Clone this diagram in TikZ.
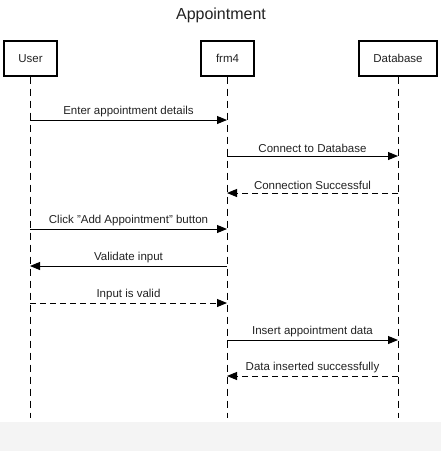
\documentclass[tikz,border=0pt]{standalone}
\usepackage{fontspec}
\setmainfont{Liberation Sans}
\usetikzlibrary{positioning,arrows.meta}
\definecolor{seqInk}{HTML}{222222}
\definecolor{seqBand}{HTML}{F4F4F4}

\begin{document}
\begin{tikzpicture}[x=1pt,y=-1pt,font=\fontsize{11.5}{13}\selectfont,text=seqInk,
  actor/.style={draw=black, line width=1.4pt, minimum height=35pt, inner sep=0pt},
  lifeline/.style={draw=black, line width=0.9pt, dash pattern=on 7pt off 5pt},
  call/.style={draw=black, line width=0.9pt, -{Triangle[length=10pt,width=8pt]}},
  reply/.style={call, dash pattern=on 6pt off 4pt},
  msg/.style={midway, above=-0.7pt}]
\useasboundingbox (0,0) rectangle (441,451);
% grey strip at the bottom
\fill[seqBand] (0,422) rectangle (441,451);
\node[font=\fontsize{16}{19}\selectfont] (title) at (221,15) {Appointment};
% participants
\node[actor, minimum width=53pt] (user) at (30.5,58.5) {User};
\node[actor, minimum width=53pt] (frm) at (227.5,58.5) {frm4};
\node[actor, minimum width=78pt] (db) at (398,58.5) {Database};
% lifelines
\coordinate (user-end) at (30,418);
\coordinate (frm-end) at (227,418);
\coordinate (db-end) at (398,418);
\draw[lifeline] (user.south -| user-end) -- (user-end);
\draw[lifeline] (frm.south -| frm-end) -- (frm-end);
\draw[lifeline] (db.south -| db-end) -- (db-end);
% message rows
\foreach \i/\y in {1/120,2/156,3/193,4/229,5/266,6/303,7/340,8/376} {
  \coordinate (user-\i) at (30,\y);
  \coordinate (frm-\i) at (227,\y);
  \coordinate (db-\i) at (398,\y);
}
\draw[call] (user-1) -- node[msg] {Enter appointment details} (frm-1);
\draw[call] (frm-2) -- node[msg] {Connect to Database} (db-2);
\draw[reply] (db-3) -- node[msg] {Connection Successful} (frm-3);
\draw[call] (user-4) -- node[msg] {Click \symbol{34}Add Appointment\symbol{34} button} (frm-4);
\draw[call] (frm-5) -- node[msg] {Validate input} (user-5);
\draw[reply] (user-6) -- node[msg] {Input is valid} (frm-6);
\draw[call] (frm-7) -- node[msg] {Insert appointment data} (db-7);
\draw[reply] (db-8) -- node[msg] {Data inserted successfully} (frm-8);
\end{tikzpicture}
\end{document}
